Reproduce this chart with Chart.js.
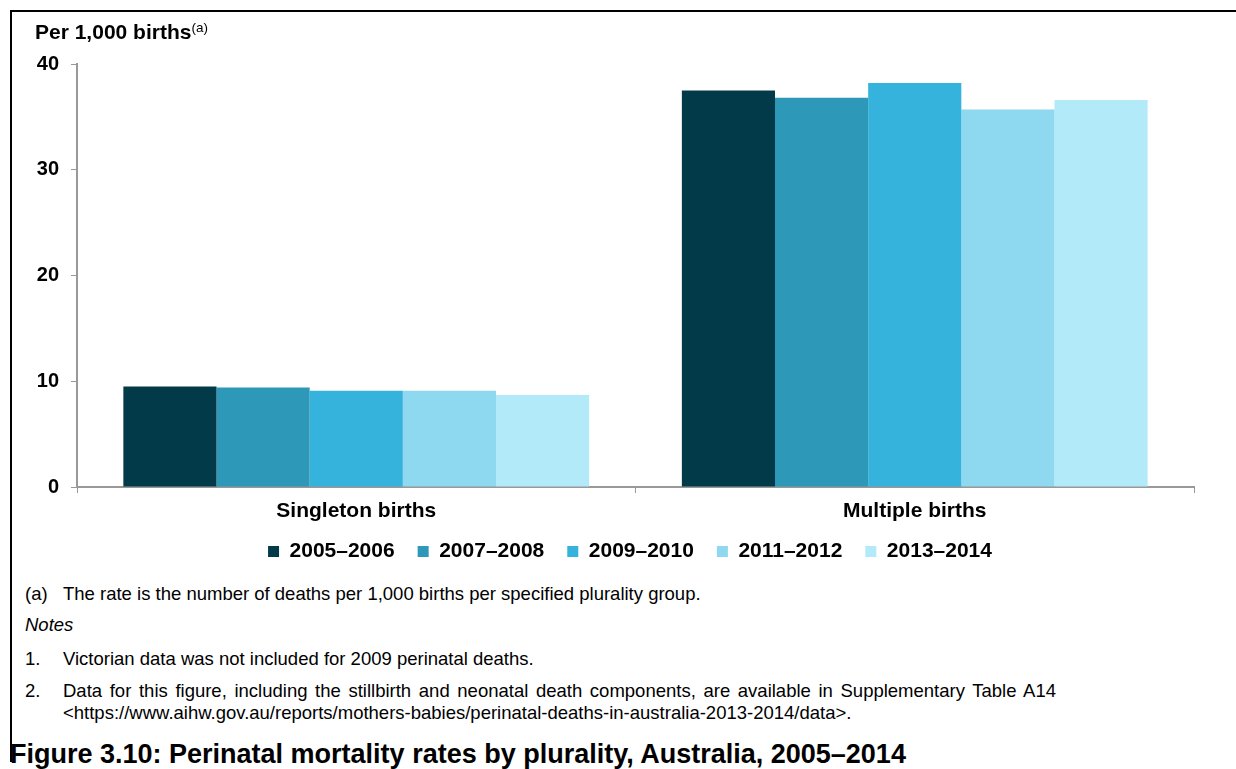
<html>
<head>
 <meta charset="utf-8" />
 <title>Perinatal mortality rates by plurality</title>
 <script src="https://cdn.jsdelivr.net/npm/chart.js@4.4.1/dist/chart.umd.min.js"></script>
 <style>
  body { margin: 0; background: #fff; font-family: Arial, "Liberation Sans", sans-serif; color: #000; }
  #frame { position: absolute; left: 10px; top: 10px; width: 1240px; height: 750px; border-left: 2px solid #000; border-top: 2px solid #000; }
  #chartBox { position: absolute; left: 0; top: 0; width: 1236px; height: 576px; }
  .txt { position: absolute; white-space: nowrap; }
  #ylab { left: 35px; top: 20px; font-size: 21px; font-weight: bold; }
  #ylab sup { font-size: 13.5px; font-weight: normal; vertical-align: 7px; }
  .fn { font-size: 18.5px; line-height: 21px; }
  .num { left: 25px; }
  .body { left: 63px; }
  #title { left: 10px; top: 741px; font-size: 27px; line-height: 27px; font-weight: bold; }
 </style>
</head>
<body>
 <div id="frame"></div>
 <div id="chartBox"><canvas id="myChart"></canvas></div>

 <div class="txt" id="ylab">Per 1,000 births<sup>(a)</sup></div>

 <div class="txt fn num" style="top:583px">(a)</div>
 <div class="txt fn body" style="top:583px">The rate is the number of deaths per 1,000 births per specified plurality group.</div>
 <div class="txt fn num" style="top:614px"><i>Notes</i></div>
 <div class="txt fn num" style="top:648px">1.</div>
 <div class="txt fn body" style="top:648px">Victorian data was not included for 2009 perinatal deaths.</div>
 <div class="txt fn num" style="top:680px">2.</div>
 <div class="txt fn body" style="top:680px; word-spacing:2.5px">Data for this figure, including the stillbirth and neonatal death components, are available in Supplementary Table A14</div>
 <div class="txt fn body" style="top:702px">&lt;https://www.aihw.gov.au/reports/mothers-babies/perinatal-deaths-in-australia-2013-2014/data&gt;.</div>
 <div class="txt" id="title">Figure 3.10: Perinatal mortality rates by plurality, Australia, 2005–2014</div>

 <script>
  // categories and periods
  var categories = ["Singleton births", "Multiple births"];
  var periods = ["2005–2006", "2007–2008", "2009–2010", "2011–2012", "2013–2014"];

  // rate per 1,000 births, one array per period (singleton, multiple)
  var rates0506 = [9.5, 37.5];
  var rates0708 = [9.4, 36.8];
  var rates0910 = [9.1, 38.2];
  var rates1112 = [9.1, 35.7];
  var rates1314 = [8.7, 36.6];

  var yTicks = [0, 10, 20, 30, 40];

  var colors = ["#033a4a", "#2e98b8", "#36b3dc", "#8ed8f0", "#b3eafa"];
  var allRates = [rates0506, rates0708, rates0910, rates1112, rates1314];

  var datasets = [];
  for (var i = 0; i < periods.length; i++) {
   datasets.push({
    label: periods[i],
    data: allRates[i],
    backgroundColor: colors[i],
    borderWidth: 0,
    categoryPercentage: 0.834,
    barPercentage: 1.0
   });
  }

  // legend sits a bit right of centre and higher in the original
  var legendShift = {
   id: "legendShift",
   afterLayout: function (chart) {
    var lg = chart.legend;
    lg.left += 33; lg.right += 33;
    lg.top -= 4; lg.bottom -= 4;
   }
  };

  Chart.defaults.font.family = 'Arial, "Liberation Sans", sans-serif';
  Chart.defaults.color = "#000";

  var ctx = document.getElementById("myChart").getContext("2d");
  var chart = new Chart(ctx, {
   type: "bar",
   data: { labels: categories, datasets: datasets },
   plugins: [legendShift],
   options: {
    responsive: true,
    maintainAspectRatio: false,
    animation: false,
    layout: { padding: { top: 64, right: 42, left: 0, bottom: 0 } },
    plugins: {
     tooltip: { enabled: false },
     legend: {
      position: "bottom",
      labels: {
       boxWidth: 11,
       boxHeight: 11,
       padding: 23,
       font: { size: 21, weight: "bold" }
      }
     }
    },
    scales: {
     x: {
      grid: { display: true, offset: true, drawOnChartArea: false, tickLength: 6, color: "#999" },
      border: { color: "#999", width: 2 },
      ticks: { padding: 8, font: { size: 21, weight: "bold", lineHeight: 1 } },
      afterFit: function (scale) { scale.height = 35; }
     },
     y: {
      min: 0,
      max: 40,
      afterBuildTicks: function (scale) {
       scale.ticks = yTicks.map(function (v) { return { value: v }; });
      },
      grid: { display: true, drawOnChartArea: false, tickLength: 6, color: "#999" },
      border: { color: "#999", width: 2 },
      ticks: { padding: 12, font: { size: 20, weight: "bold" } },
      afterFit: function (scale) { scale.width = 77; }
     }
    }
   }
  });
 </script>
</body>
</html>
